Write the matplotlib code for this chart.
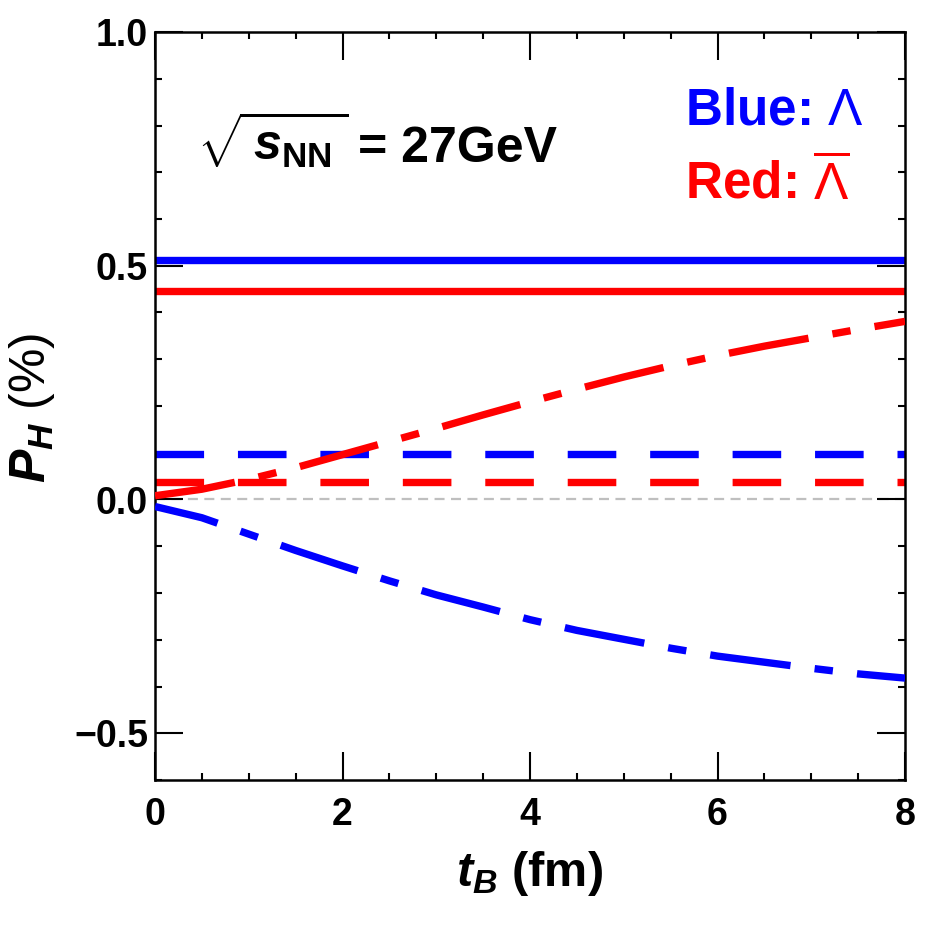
import matplotlib
matplotlib.use("Agg")
import matplotlib.pyplot as plt
from matplotlib.ticker import MultipleLocator, FixedLocator

# ---------------- data ----------------
t_B = [0.0, 0.5, 1.0, 1.5, 2.0, 2.5, 3.0, 3.5, 4.0, 4.5, 5.0, 5.5, 6.0, 6.5, 7.0, 7.5, 8.0]
lambda_dashdot = [-0.015, -0.039, -0.074, -0.109, -0.142, -0.174, -0.204, -0.230, -0.257,
                  -0.280, -0.299, -0.318, -0.335, -0.348, -0.361, -0.373, -0.382]
antilambda_dashdot = [0.008, 0.022, 0.043, 0.068, 0.096, 0.124, 0.152, 0.181, 0.209,
                      0.236, 0.262, 0.286, 0.308, 0.328, 0.346, 0.364, 0.381]
lambda_solid = 0.513
antilambda_solid = 0.447
lambda_dashed = 0.098
antilambda_dashed = 0.038
zero_level = 0.0

x_ticks = [0, 2, 4, 6, 8]
y_ticks = [-0.5, 0.0, 0.5, 1.0]
y_ticklabels = ["\u22120.5", "0.0", "0.5", "1.0"]

# ---------------- style ----------------
plt.rcParams["font.family"] = ["Liberation Sans", "DejaVu Sans"]
plt.rcParams["mathtext.fontset"] = "custom"
plt.rcParams["mathtext.rm"] = "Liberation Sans"
plt.rcParams["mathtext.it"] = "Liberation Sans:italic:bold"
plt.rcParams["mathtext.bf"] = "Liberation Sans:bold"

BLUE = (0, 0, 1)
RED = (1, 0, 0)
GRAY = (0.75, 0.75, 0.75)
LW = 5.3

fig = plt.figure(figsize=(9.38, 9.38), dpi=100)
ax = fig.add_axes([155 / 938, 1 - 780 / 938, 750 / 938, 748 / 938])

t_range = [t_B[0], t_B[-1]]

ax.plot(t_range, [zero_level] * 2, color=GRAY, lw=1.6, linestyle=(0, (4.5, 2.9)), zorder=1)

ax.plot(t_range, [lambda_solid] * 2, color=BLUE, lw=LW, solid_capstyle="butt", zorder=2)
ax.plot(t_range, [antilambda_solid] * 2, color=RED, lw=LW, solid_capstyle="butt", zorder=2)

ax.plot(t_range, [lambda_dashed] * 2, color=BLUE, lw=LW, linestyle=(0, (6.6, 4.6)), zorder=2)
ax.plot(t_range, [antilambda_dashed] * 2, color=RED, lw=LW, linestyle=(0, (6.6, 4.6)), zorder=2)

ax.plot(t_B, lambda_dashdot, color=BLUE, lw=LW, linestyle=(2.2, (11.0, 3.3, 2.5, 3.3)), zorder=3)
ax.plot(t_B, antilambda_dashdot, color=RED, lw=LW, linestyle=(0, (11.0, 3.3, 2.5, 3.3)), zorder=3)

ax.set_xlim(0, 8)
ax.set_ylim(-0.6, 1.0)

ax.xaxis.set_major_locator(FixedLocator(x_ticks))
ax.xaxis.set_minor_locator(MultipleLocator(0.5))
ax.yaxis.set_major_locator(FixedLocator(y_ticks))
ax.yaxis.set_minor_locator(MultipleLocator(0.1))
ax.set_yticklabels(y_ticklabels)

ax.tick_params(which="both", direction="in", top=True, right=True, width=1.5, color="black")
ax.tick_params(which="major", length=20)
ax.tick_params(which="minor", length=5)
ax.tick_params(axis="x", which="major", pad=12, labelsize=27)
ax.tick_params(axis="y", which="major", pad=5, labelsize=27)
for lab in ax.get_xticklabels() + ax.get_yticklabels():
    lab.set_fontweight("bold")

for sp in ax.spines.values():
    sp.set_linewidth(1.8)

ax.set_xlabel(r"$t_B$ (fm)", fontsize=35, fontweight="bold")
ax.xaxis.set_label_coords(0.5, -0.092)
ax.xaxis.label.set_va("top")
ax.set_ylabel(r"$P_H$ (%)", fontsize=36, fontweight="normal")
ax.yaxis.set_label_coords(-0.131, 0.497)

ax.text(0.056, 0.829, r"$\sqrt{\,s_{\mathbf{NN}}\,}$", transform=ax.transAxes,
        fontsize=36, fontweight="bold", ha="left", va="baseline")
ax.text(0.271, 0.826, "= 27GeV", transform=ax.transAxes,
        fontsize=36, fontweight="bold", ha="left", va="baseline")
ax.text(0.7067, 0.8757, r"Blue: $\mathrm{\Lambda}$", transform=ax.transAxes,
        fontsize=37, fontweight="bold", color=BLUE, ha="left", va="baseline")
ax.text(0.7067, 0.778, r"Red: $\overline{\mathrm{\Lambda}}$", transform=ax.transAxes,
        fontsize=37, fontweight="bold", color=RED, ha="left", va="baseline")

fig.savefig("out.png", dpi=100)
